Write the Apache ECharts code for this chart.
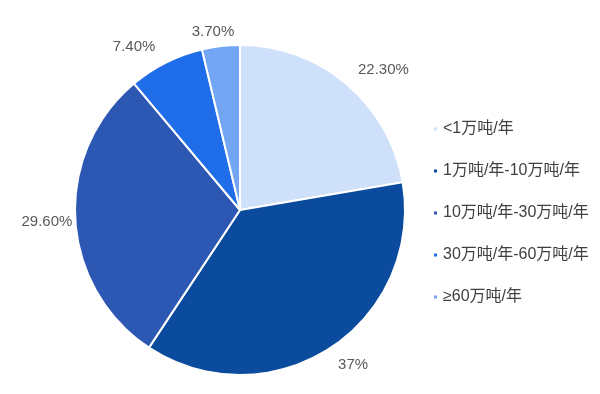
<!DOCTYPE html>
<html><head><meta charset="utf-8">
<script src="https://cdn.jsdelivr.net/npm/echarts@6/dist/echarts.min.js"></script>
<style>html,body{margin:0;padding:0;background:#fff}#c{width:600px;height:394px}</style>
</head><body><div id="c"></div>
<script>
const categories = ['<1万吨/年', '1万吨/年-10万吨/年', '10万吨/年-30万吨/年', '30万吨/年-60万吨/年', '≥60万吨/年'];
const values = [22.3, 37, 29.6, 7.4, 3.7];
const labels = ['22.30%', '37%', '29.60%', '7.40%', '3.70%'];
const colors = ['#cfe0fa', '#0b4b9d', '#2c57b2', '#1f6de8', '#72a6f5'];
const lineLen = [18, 20, 49, 17, 14];
const lineLen2 = [-5, -8, -51, -2, -20];

const chart = echarts.init(document.getElementById('c'));
chart.setOption({
  animation: false,
  color: colors,
  textStyle: { fontFamily: 'Liberation Sans, Arial, Noto Sans CJK SC, sans-serif' },
  legend: {
    orient: 'vertical', left: 427, top: 116,
    itemWidth: 5, itemHeight: 5, itemGap: 26, icon: 'rect',
    textStyle: { fontSize: 16, color: '#404040', fontFamily: 'Liberation Sans, Noto Sans CJK SC, sans-serif' },
    data: categories
  },
  series: [{
    type: 'pie',
    center: [240, 210], radius: 165,
    startAngle: 90, clockwise: true,
    avoidLabelOverlap: false,
    itemStyle: { borderColor: '#fff', borderWidth: 2 },
    label: { show: true, position: 'outside', fontSize: 15, color: '#595959', distanceToLabelLine: 5 },
    labelLine: { show: false },
    data: categories.map((n, i) => ({
      name: n, value: values[i],
      label: { formatter: labels[i] },
      labelLine: { show: false, length: lineLen[i], length2: lineLen2[i] }
    }))
  }]
});
</script></body></html>
